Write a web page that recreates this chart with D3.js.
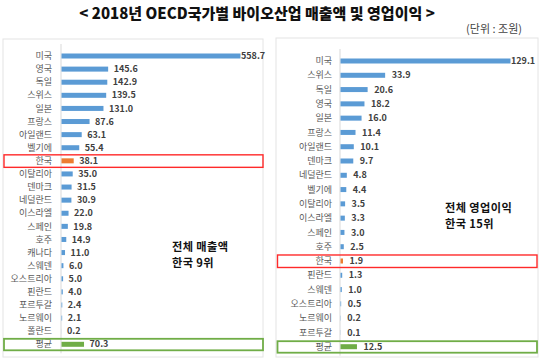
<!DOCTYPE html>
<html><head><meta charset="utf-8">
<script src="https://cdn.jsdelivr.net/npm/d3@7"></script>
<style>body{margin:0;background:#fff}svg{display:block}</style>
</head><body><svg id="c" width="540" height="359"></svg>
<script>
const salesCountries = ["미국","영국","독일","스위스","일본","프랑스","아일랜드","벨기에","한국","이탈리아","덴마크","네덜란드","이스라엘","스페인","호주","캐나다","스웨덴","오스트리아","핀란드","포르투갈","노르웨이","폴란드","평균"];
const salesValues = [558.7,145.6,142.9,139.5,131.0,87.6,63.1,55.4,38.1,35.0,31.5,30.9,22.0,19.8,14.9,11.0,6.0,5.0,4.0,2.4,2.1,0.2,70.3];
const profitCountries = ["미국","스위스","독일","영국","일본","프랑스","아일랜드","덴마크","네덜란드","벨기에","이탈리아","이스라엘","스페인","호주","한국","핀란드","스웨덴","오스트리아","노르웨이","포르투갈","평균"];
const profitValues = [129.1,33.9,20.6,18.2,16.0,11.4,10.1,9.7,4.8,4.4,3.5,3.3,3.0,2.5,1.9,1.3,1.0,0.5,0.2,0.1,12.5];
const titleText = "< 2018년 OECD국가별 바이오산업 매출액 및 영업이익 >";
const unitText = "(단위 : 조원)";
const salesNote = ["전체 매출액","한국 9위"];
const profitNote = ["전체 영업이익","한국 15위"];

const svg = d3.select("#c");
const FONT = "'Noto Sans CJK KR','Noto Sans',sans-serif";
const BLUE="#5b9bd5", ORANGE="#ed7d31", GREEN="#70ad47";

svg.append("text").attr("x",257).attr("y",19).attr("text-anchor","middle")
  .attr("font-family",FONT).attr("font-weight",900).attr("font-size",15).attr("fill","#111")
  .text(titleText);
svg.append("text").attr("x",522).attr("y",33).attr("text-anchor","end")
  .attr("font-family",FONT).attr("font-size",11).attr("fill","#444").text(unitText);

function panel(cfg){
  const g = svg.append("g");
  g.append("rect").attr("x",cfg.px0).attr("y",cfg.py0).attr("width",cfg.px1-cfg.px0).attr("height",357-cfg.py0)
    .attr("fill","none").attr("stroke","#e4e4e4").attr("stroke-width",1);
  const x = d3.scaleLinear().domain([0, cfg.values[0]]).range([cfg.ax, cfg.xEnd]);
  const y = d3.scalePoint().domain(cfg.cats).range([cfg.y0, cfg.y1]);
  g.append("line").attr("x1",cfg.ax).attr("x2",cfg.ax).attr("y1",cfg.y0-12).attr("y2",cfg.y1+9)
    .attr("stroke","#d9d9d9").attr("stroke-width",1);
  const rows = g.selectAll("g.row").data(cfg.cats.map((c,i)=>({c, v:cfg.values[i]}))).join("g");
  rows.append("text").attr("x",cfg.lx).attr("y",d=>y(d.c)).attr("dy","0.35em").attr("text-anchor","end")
    .attr("font-family",FONT).attr("font-size",9).attr("fill","#595959").text(d=>d.c);
  rows.append("rect").attr("x",cfg.ax+0.5).attr("y",d=>y(d.c)-2.5).attr("height",5)
    .attr("width",d=>Math.max(0, x(d.v)-cfg.ax))
    .attr("fill",d=> d.c==="한국"?ORANGE:(d.c==="평균"?GREEN:BLUE));
  rows.append("text").attr("x",d=>Math.min(x(d.v)+cfg.gap, cfg.xEnd+1)).attr("y",d=>y(d.c)).attr("dy","0.35em")
    .attr("font-family",FONT).attr("font-weight",700).attr("font-size",9).attr("fill","#404040")
    .text(d=>d.v.toFixed(1));
  g.append("rect").attr("x",cfg.bx0).attr("y",y("한국")-6).attr("width",cfg.bx1-cfg.bx0).attr("height",12.5)
    .attr("fill","none").attr("stroke","#ff2a2a").attr("stroke-width",1.4);
  g.append("rect").attr("x",cfg.bx0).attr("y",y("평균")-5.5).attr("width",cfg.bx1-cfg.bx0).attr("height",11.5)
    .attr("fill","none").attr("stroke",GREEN).attr("stroke-width",1.8);
  cfg.note.forEach((t,i)=>{
    g.append("text").attr("x",cfg.nx).attr("y",cfg.ny+i*16)
      .attr("font-family",FONT).attr("font-weight",700).attr("font-size",11.2)
      .attr("letter-spacing",0.4).attr("fill","#111").text(t);
  });
}

panel({cats:salesCountries, values:salesValues, px0:3, px1:263, py0:39, ax:61, xEnd:240, y0:56, y1:344.3,
  lx:52, gap:6, bx0:4, bx1:263, note:salesNote, nx:172, ny:251});
panel({cats:profitCountries, values:profitValues, px0:276, px1:538, py0:38, ax:340, xEnd:510, y0:61, y1:346.7,
  lx:332, gap:7, bx0:277.5, bx1:537, note:profitNote, nx:445, ny:212});
</script></body></html>
